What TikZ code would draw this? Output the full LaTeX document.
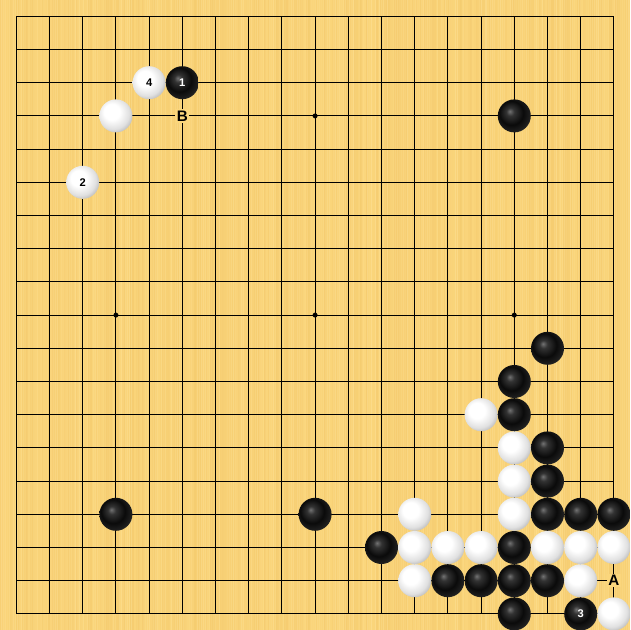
\documentclass[tikz,border=0pt]{standalone}
\usepackage{fontspec}
\setmainfont{Liberation Sans}
\definecolor{board}{RGB}{251,214,124}
\definecolor{stripe}{RGB}{236,188,92}
\definecolor{lstripe}{RGB}{255,230,160}
\pgfdeclareradialshading{wstone}{\pgfqpoint{-8bp}{8bp}}{color(0bp)=(white); color(12bp)=(white); color(24bp)=(black!12); color(36bp)=(black!40); color(50bp)=(black!40)}
\pgfdeclareradialshading{bstone}{\pgfqpoint{-7bp}{7bp}}{color(0bp)=(black!55); color(6bp)=(black!80); color(18bp)=(black!96); color(27bp)=(black!88); color(35bp)=(black!66); color(50bp)=(black!66)}
\tikzset{
  grid/.style={line width=0.9pt, black},
  star/.style={circle, fill=black, inner sep=0pt, minimum size=0.15cm},
  bst/.style={circle, inner sep=0pt, minimum size=0.99cm, shading=bstone, text=white, font=\bfseries\fontsize{9.5}{9.5}\selectfont},
  wst/.style={circle, inner sep=0pt, minimum size=0.99cm, shading=wstone, text=black, font=\bfseries\fontsize{9.5}{9.5}\selectfont},
  lbl/.style={fill=board, inner sep=1.2pt, text=black, font=\bfseries\fontsize{13}{13}\selectfont}
}
\begin{document}
\begin{tikzpicture}[x=0.996cm, y=-0.996cm]
\useasboundingbox (-0.491,-0.491) rectangle (18.485,18.485);
\clip (-0.491,-0.491) rectangle (18.485,18.485);
\fill[board] (-0.491,-0.491) rectangle (18.485,18.485);
\pgfmathsetseed{11}
\foreach \i in {0,...,314} {
  \pgfmathsetmacro\op{0.35*rnd}
  \pgfmathsetmacro\lp{0.4*rnd}
  \fill[stripe, opacity=\op] ({-0.491+\i*0.0603},-0.491) rectangle ({-0.491+\i*0.0603+0.0603},18.485);
  \fill[lstripe, opacity=\lp] ({-0.491+\i*0.0603+0.03},-0.491) rectangle ({-0.491+\i*0.0603+0.0603},18.485);
}
% grid
\foreach \k in {0,...,18} {
  \draw[grid] (\k,0) -- (\k,18);
  \draw[grid] (0,\k) -- (18,\k);
}
\foreach \c/\r in {3/3,9/3,15/3,3/9,9/9,15/9,3/15,9/15,15/15}
  \node[star] (star-\c-\r) at (\c,\r) {};
% black stones
\foreach \c/\r/\t in {5/2/1,15/3/,16/10/,15/11/,15/12/,16/13/,16/14/,3/15/,9/15/,16/15/,17/15/,18/15/,11/16/,15/16/,13/17/,14/17/,15/17/,16/17/,15/18/,17/18/3}
  \node[bst] (b-\c-\r) at (\c,\r) {\t};
% white stones
\foreach \c/\r/\t in {4/2/4,3/3/,2/5/2,14/12/,15/13/,15/14/,12/15/,15/15/,12/16/,13/16/,14/16/,16/16/,17/16/,18/16/,12/17/,17/17/,18/18/}
  \node[wst] (w-\c-\r) at (\c,\r) {\t};
% labels
\node[lbl] (lA) at (18,17) {A};
\node[lbl] (lB) at (5,3) {B};
\end{tikzpicture}
\end{document}
